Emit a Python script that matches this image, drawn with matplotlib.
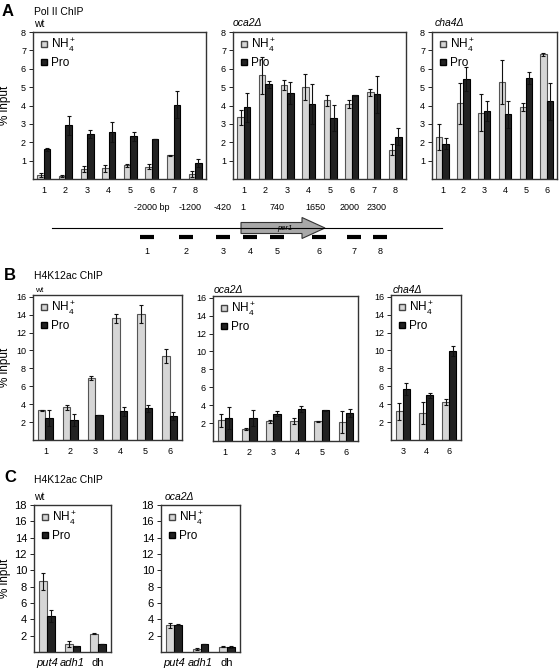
import numpy as np
import matplotlib
matplotlib.use('Agg')
import matplotlib.pyplot as plt
from matplotlib.lines import Line2D
from matplotlib.patches import FancyArrow

plt.rcParams['font.family'] = ['Liberation Sans', 'DejaVu Sans']
plt.rcParams['mathtext.fontset'] = 'custom'
plt.rcParams['mathtext.rm'] = 'Liberation Sans'
plt.rcParams['mathtext.it'] = 'Liberation Sans:italic'

# ---- data: panel A, Pol II ChIP ----
sites8 = ['1', '2', '3', '4', '5', '6', '7', '8']
sites6 = ['1', '2', '3', '4', '5', '6']

a_wt_nh4 = [0.2, 0.18, 0.55, 0.58, 0.75, 0.68, 1.28, 0.28]
a_wt_nh4_err = [0.1, 0.05, 0.18, 0.2, 0.08, 0.12, 0.03, 0.18]
a_wt_pro = [1.62, 2.92, 2.45, 2.55, 2.32, 2.2, 4.05, 0.88]
a_wt_pro_err = [0.08, 0.5, 0.2, 0.55, 0.25, 0.0, 0.75, 0.2]

a_oca_nh4 = [3.35, 5.65, 5.1, 5.0, 4.28, 4.08, 4.72, 1.6]
a_oca_nh4_err = [0.4, 1.0, 0.28, 0.72, 0.3, 0.2, 0.2, 0.3]
a_oca_pro = [3.9, 5.15, 4.7, 4.08, 3.33, 4.55, 4.6, 2.3]
a_oca_pro_err = [0.8, 0.2, 0.6, 1.1, 0.7, 0.03, 1.0, 0.45]

a_cha_nh4 = [2.3, 4.12, 3.6, 5.3, 3.92, 6.8]
a_cha_nh4_err = [0.7, 1.1, 1.0, 1.2, 0.2, 0.08]
a_cha_pro = [1.92, 5.45, 3.7, 3.52, 5.5, 4.22]
a_cha_pro_err = [0.3, 0.65, 0.55, 0.75, 0.35, 1.0]

# ---- data: panel B, H4K12ac ChIP ----
b_wt_nh4 = [3.3, 3.65, 6.9, 13.6, 14.1, 9.4]
b_wt_nh4_err = [0.1, 0.3, 0.2, 0.5, 1.0, 0.8]
b_wt_pro = [2.45, 2.25, 2.75, 3.2, 3.55, 2.65]
b_wt_pro_err = [0.85, 0.7, 0.0, 0.5, 0.4, 0.45]

b_oca_nh4 = [2.3, 1.3, 2.2, 2.2, 2.2, 2.1]
b_oca_nh4_err = [0.75, 0.1, 0.15, 0.35, 0.05, 1.25]
b_oca_pro = [2.6, 2.6, 3.05, 3.6, 3.45, 3.1]
b_oca_pro_err = [1.25, 0.9, 0.25, 0.35, 0.05, 0.45]

b_cha_sites = ['3', '4', '6']
b_cha_nh4 = [3.2, 3.0, 4.25]
b_cha_nh4_err = [0.95, 1.2, 0.3]
b_cha_pro = [5.7, 5.0, 9.95]
b_cha_pro_err = [0.7, 0.3, 0.6]

# ---- data: panel C, H4K12ac ChIP at control loci ----
c_loci = ['put4', 'adh1', 'dh']
c_wt_nh4 = [8.65, 1.0, 2.25]
c_wt_nh4_err = [1.0, 0.35, 0.1]
c_wt_pro = [4.45, 0.7, 0.95]
c_wt_pro_err = [0.75, 0.05, 0.0]

c_oca_nh4 = [3.25, 0.35, 0.65]
c_oca_nh4_err = [0.35, 0.1, 0.05]
c_oca_pro = [3.35, 1.0, 0.6]
c_oca_pro_err = [0.1, 0.0, 0.1]

# ---- per1 locus schematic ----
probe_x = [147, 186, 223, 250, 277, 319, 354, 380]
probe_labels = ['1', '2', '3', '4', '5', '6', '7', '8']
bp_x = [152, 190, 223, 243, 277, 315, 350, 377]
bp_labels = ['-2000 bp', '-1200', '-420', '1', '740', '1650', '2000', '2300']

W, H = 560, 668
fig = plt.figure(figsize=(W / 100, H / 100), dpi=100)

LIGHT = '#d6d6d6'
DARK = '#222222'


def px_axes(x0, x1, y0, y1):
    return fig.add_axes([x0 / W, 1 - y1 / H, (x1 - x0) / W, (y1 - y0) / H])


def chart(ax, labels, nh4, nh4_err, pro, pro_err, ymax, yticks, legend_fs=8.5):
    x = np.arange(1, len(labels) + 1)
    w = 0.3
    ax.bar(x - w / 2, nh4, w, color=LIGHT, edgecolor='#555555', lw=0.8)
    ax.bar(x + w / 2, pro, w, color=DARK, edgecolor='black', lw=0.8)
    ax.errorbar(x - w / 2, nh4, yerr=nh4_err, fmt='none', ecolor='#111111',
                elinewidth=0.8, capsize=1.6, capthick=0.8)
    ax.errorbar(x + w / 2, pro, yerr=pro_err, fmt='none', ecolor='#111111',
                elinewidth=0.8, capsize=1.6, capthick=0.8)
    ax.set_xlim(0.5, len(labels) + 0.5)
    ax.set_ylim(0, ymax)
    ax.set_xticks(x)
    ax.set_xticklabels(labels)
    ax.set_yticks(yticks)
    ax.tick_params(axis='x', length=0, pad=5, labelsize=6.5)
    ax.tick_params(axis='y', length=3, width=0.6, pad=2, labelsize=6.5)
    for s in ax.spines.values():
        s.set_color('#333333')
        s.set_linewidth(1.0)
    handles = [
        Line2D([], [], marker='s', ls='', mfc=LIGHT, mec='#444444', ms=5),
        Line2D([], [], marker='s', ls='', mfc=DARK, mec='black', ms=5),
    ]
    ax.legend(handles, ['NH$_4^+$', 'Pro'], loc='upper left', frameon=False,
              fontsize=legend_fs, handletextpad=0.1, borderaxespad=0.2,
              labelspacing=0.25, borderpad=0.2, handlelength=1.0)


def ylab(ax, x0, x1):
    ax.set_ylabel('% input', fontsize=8.5)
    ax.yaxis.set_label_coords((11 - x0) / (x1 - x0), 0.5)


# panel A
ax = px_axes(33, 206, 32, 179)
chart(ax, sites8, a_wt_nh4, a_wt_nh4_err, a_wt_pro, a_wt_pro_err, 8, range(1, 9))
ylab(ax, 33, 206)
ax = px_axes(233, 406, 32, 179)
chart(ax, sites8, a_oca_nh4, a_oca_nh4_err, a_oca_pro, a_oca_pro_err, 8, range(1, 9))
ax = px_axes(432, 557, 32, 179)
chart(ax, sites6, a_cha_nh4, a_cha_nh4_err, a_cha_pro, a_cha_pro_err, 8, range(1, 9))

fig.text(2 / W, 1 - 12 / H, 'A', fontsize=12, fontweight='bold', va='center')
fig.text(34 / W, 1 - 12 / H, 'Pol II ChIP', fontsize=7.5, va='center')
fig.text(34 / W, 1 - 24 / H, 'wt', fontsize=7.5, va='center')
fig.text(233 / W, 1 - 23 / H, 'oca2Δ', fontsize=7.5, style='italic', va='center')
fig.text(435 / W, 1 - 23 / H, 'cha4Δ', fontsize=7.5, style='italic', va='center')

# locus schematic
gx = fig.add_axes([0, 1 - 262 / H, 1, 62 / H])
gx.set_xlim(0, W)
gx.set_ylim(262, 200)
gx.axis('off')
gx.plot([52, 442], [228, 228], color='black', lw=0.8)
gx.add_patch(FancyArrow(241, 228, 84, 0, width=11, head_width=21, head_length=23,
                        length_includes_head=True, fc='#a8a8a8', ec='#333333', lw=0.8))
gx.text(285, 228.5, 'per1', fontsize=5.5, style='italic', ha='center', va='center')
for px, lab in zip(probe_x, probe_labels):
    gx.plot([px - 7, px + 7], [237, 237], color='black', lw=3, solid_capstyle='butt')
    gx.text(px, 251, lab, fontsize=6.5, ha='center', va='center')
for bx, lab in zip(bp_x, bp_labels):
    gx.text(bx, 208, lab, fontsize=6.5, ha='center', va='center')

# panel B
ax = px_axes(33, 182, 295, 440)
chart(ax, sites6, b_wt_nh4, b_wt_nh4_err, b_wt_pro, b_wt_pro_err, 16.2, range(2, 17, 2))
ylab(ax, 33, 182)
ax = px_axes(213, 358, 296, 441)
chart(ax, sites6, b_oca_nh4, b_oca_nh4_err, b_oca_pro, b_oca_pro_err, 16.2, range(2, 17, 2))
ax = px_axes(391, 461, 295, 440)
chart(ax, b_cha_sites, b_cha_nh4, b_cha_nh4_err, b_cha_pro, b_cha_pro_err, 16.2, range(2, 17, 2))

fig.text(4 / W, 1 - 276 / H, 'B', fontsize=12, fontweight='bold', va='center')
fig.text(34 / W, 1 - 276 / H, 'H4K12ac ChIP', fontsize=7.5, va='center')
fig.text(35 / W, 1 - 291 / H, 'wt', fontsize=6, va='center')
fig.text(214 / W, 1 - 290 / H, 'oca2Δ', fontsize=7.5, style='italic', va='center')
fig.text(393 / W, 1 - 290 / H, 'cha4Δ', fontsize=7.5, style='italic', va='center')

# panel C
for x0, x1, nh4, nh4e, pro, proe in [(34, 111, c_wt_nh4, c_wt_nh4_err, c_wt_pro, c_wt_pro_err),
                                     (161, 240, c_oca_nh4, c_oca_nh4_err, c_oca_pro, c_oca_pro_err)]:
    ax = px_axes(x0, x1, 505, 652)
    chart(ax, c_loci, nh4, nh4e, pro, proe, 18, range(2, 19, 2))
    ax.tick_params(axis='x', labelsize=8, pad=4)
    ax.tick_params(axis='y', labelsize=8)
    for t in ax.get_xticklabels()[:2]:
        t.set_fontstyle('italic')
    if x0 == 34:
        ylab(ax, x0, x1)

fig.text(4 / W, 1 - 478 / H, 'C', fontsize=12, fontweight='bold', va='center')
fig.text(34 / W, 1 - 480 / H, 'H4K12ac ChIP', fontsize=7.5, va='center')
fig.text(34 / W, 1 - 497 / H, 'wt', fontsize=7.5, va='center')
fig.text(165 / W, 1 - 497 / H, 'oca2Δ', fontsize=7.5, style='italic', va='center')

fig.savefig('out.png', dpi=100)
